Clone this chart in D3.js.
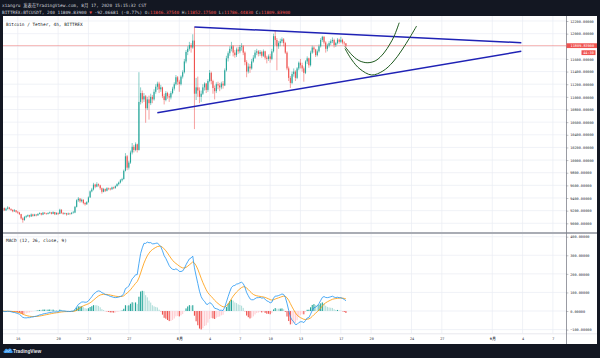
<!DOCTYPE html>
<html><head><meta charset="utf-8">
<script src="https://cdn.jsdelivr.net/npm/d3@7"></script>
<style>html,body{margin:0;padding:0;background:#131722;overflow:hidden}text{white-space:pre}</style>
</head><body>
<svg id="c" width="600" height="358"></svg>
<script>
// ---------------- DATA ----------------
const firstBarTime = "2020-07-14T12:00"; // 4h bars, CST
const barHours = 4;
const firstOpen = 9190;
const closes = [
 9240,9205,9230,
 9250,9228,9212,9190,9205,9182,
 9170,9145,9078,9052,9098,9112,
 9128,9108,9140,9118,9138,9125,
 9148,9160,9138,9168,9155,9148,
 9162,9172,9150,9178,9142,9165,
 9150,9215,9165,9150,9160,9140,
 9155,9150,9165,9170,9260,9365,
 9390,9348,9372,9320,9302,9335,
 9410,9505,9535,9612,9580,9618,
 9600,9555,9498,9540,9515,9555,
 9548,9538,9568,9555,9588,9620,
 9645,9680,9700,9830,10060,9880,
 9960,10120,10210,10160,10250,10160,
 10920,11060,10960,11010,10820,10960,
 10900,11000,10960,11080,11160,11210,
 11120,11150,11010,10950,11060,11010,
 10990,11060,11130,11200,11310,11240,
 11200,11320,11390,11560,11710,11760,
 11820,11780,11890,11050,11150,11100,
 11000,11050,11150,11210,11110,11250,
 11380,11250,11140,11090,11200,11180,
 11150,11210,11180,11420,11610,11690,
 11760,11800,11700,11660,11750,11720,
 11790,11800,11700,11550,11400,11480,
 11450,11560,11620,11700,11720,11680,
 11710,11650,11720,11620,11600,11640,
 11600,11720,11960,11900,11800,11850,
 11880,11910,11850,11700,11450,11300,
 11220,11360,11400,11300,11450,11540,
 11500,11450,11380,11560,11610,11500,
 11700,11780,11750,11660,11720,11800,
 11900,11950,11860,11760,11810,11850,
 11880,11900,11820,11850,11905,11870,
 11902,11860,11846.3754,11809.839
];
const highs = [
 9255,9250,9245,
 9270,9260,9235,9220,9225,9210,
 9195,9180,9150,9095,9115,9130,
 9140,9135,9155,9150,9150,9145,
 9160,9175,9165,9180,9175,9165,
 9175,9185,9180,9190,9180,9175,
 9170,9230,9220,9175,9170,9165,
 9170,9165,9180,9195,9275,9380,
 9415,9400,9390,9380,9335,9350,
 9425,9520,9560,9640,9625,9650,
 9630,9610,9565,9560,9550,9570,
 9565,9560,9580,9580,9600,9635,
 9660,9700,9720,9850,10110,10080,
 9990,10150,10270,10240,10280,10260,
 11390,11150,11100,11060,11030,11000,
 11020,11050,11030,11120,11200,11240,
 11240,11190,11160,11050,11090,11080,
 11050,11090,11160,11230,11345,11330,
 11270,11340,11420,11600,11740,11800,
 11870,11850,11990,12110,11300,11320,
 11150,11100,11200,11230,11220,11280,
 11425,11400,11270,11180,11230,11240,
 11220,11240,11250,11450,11650,11720,
 11800,11870,11820,11740,11780,11790,
 11820,11850,11820,11720,11580,11530,
 11520,11600,11660,11740,11760,11740,
 11740,11730,11750,11730,11650,11670,
 11680,11760,12000,12050,11930,11880,
 11920,11940,11930,11870,11720,11480,
 11330,11400,11450,11420,11470,11560,
 11600,11540,11480,11580,11640,11620,
 11730,11810,11800,11760,11750,11830,
 11930,11965,11960,11880,11840,11880,
 11910,11940,11920,11870,11930,11920,
 11950,11920,11880,11852.175
];
const lows = [
 9180,9195,9195,
 9215,9215,9195,9175,9180,9165,
 9150,9130,9060,9010,9040,9080,
 9100,9090,9100,9105,9110,9110,
 9120,9140,9125,9130,9145,9135,
 9140,9150,9140,9145,9130,9135,
 9130,9145,9150,9135,9140,9120,
 9135,9130,9140,9155,9160,9250,
 9340,9325,9330,9300,9280,9290,
 9325,9400,9490,9520,9555,9570,
 9580,9530,9470,9490,9495,9505,
 9525,9520,9530,9540,9550,9580,
 9600,9630,9660,9690,9820,9840,
 9850,9940,10090,10120,10140,10120,
 10150,10880,10900,10920,10590,10790,
 10640,10870,10900,10940,11050,11110,
 11060,11080,10980,10880,10930,10970,
 10920,10960,11040,11100,11180,11190,
 11080,11180,11290,11370,11530,11660,
 11730,11700,11760,10490,10950,11000,
 10900,10920,11030,11100,11060,11080,
 11230,11200,11050,10960,11060,11120,
 11090,11120,11130,11170,11400,11560,
 11650,11720,11640,11620,11630,11680,
 11690,11730,11660,11500,11310,11370,
 11380,11430,11540,11600,11660,11640,
 11650,11620,11630,11590,11530,11570,
 11540,11580,11700,11820,11420,11760,
 11800,11850,11800,11680,11420,11250,
 11140,11200,11320,11250,11280,11420,
 11450,11400,11240,11360,11520,11460,
 11480,11680,11700,11630,11640,11700,
 11780,11870,11830,11700,11720,11780,
 11820,11850,11780,11790,11830,11840,
 11850,11830,11820,11786.4483
];
const lastPrice = 11809.839;
const timeTickDates = ["2020-07-16","2020-07-20","2020-07-23","2020-07-27","2020-08-01","2020-08-04","2020-08-07","2020-08-10","2020-08-13","2020-08-17","2020-08-20","2020-08-24","2020-08-27","2020-09-01","2020-09-04","2020-09-07"];
const timeTickLabels = ["16","20","23","27","8月","4","7","10","13","17","20","24","27","9月","4","7"];
const priceTicks = [9000,9200,9400,9600,9800,10000,10200,10400,10600,10800,11000,11200,11400,11600,11800,12000,12200];
const macdTicks = [-100,0,100,200,300,400];
// user drawings (time, price)
const upperTrend = [["2020-08-02T12:00",12105],["2020-09-03T21:00",11857]];
const lowerTrend = [["2020-07-29T19:45",10749],["2020-09-03T21:00",11721]];
const curveA = [["2020-08-17T09:45",11797],["2020-08-18T04:45",11646],["2020-08-18T21:20",11567],["2020-08-19T16:20",11540],["2020-08-20T11:25",11575],["2020-08-21T06:25",11694],["2020-08-21T20:40",11836],["2020-08-22T06:50",11963],["2020-08-22T18:45",12173]];
const curveB = [["2020-08-17T09:45",11765],["2020-08-18T02:20",11583],["2020-08-18T21:20",11441],["2020-08-20T01:10",11346],["2020-08-21T04:00",11409],["2020-08-22T03:50",11551],["2020-08-23T01:10",11741],["2020-08-23T20:10",11942],["2020-08-24T12:05",12121]];

// ---------------- CHART ----------------
const W=600,H=358;
const svg=d3.select("#c");
const mono="DejaVu Sans Mono, monospace";
const parseT=d3.utcParse("%Y-%m-%dT%H:%M"), parseD=d3.utcParse("%Y-%m-%d");
const t0=parseT(firstBarTime);
const bars=closes.map((c,i)=>({t:new Date(+t0+i*barHours*3600e3),o:i?closes[i-1]:firstOpen,h:highs[i],l:lows[i],c}));

// MACD(12,26,close,9)
function ema(v,n){const k=2/(n+1),out=[];v.forEach((x,i)=>out.push(i?x*k+out[i-1]*(1-k):x));return out;}
const e12=ema(closes,12),e26=ema(closes,26);
const macd=e12.map((v,i)=>v-e26[i]);
const sig=ema(macd,9);
const hist=macd.map((v,i)=>v-sig[i]);

const x=d3.scaleUtc().domain([parseD("2020-08-01"),parseD("2020-09-01")]).range([179.3,492.3]);
const yP=d3.scaleLinear().domain([9000,12200]).range([223.3,21]);
const yM=d3.scaleLinear().domain([-100,400]).range([329.6,236.7]);

const L=3,R=566,PT=16,PB=232,MT=234,MB=333.5;
svg.append("rect").attr("width",W).attr("height",H).attr("fill","#131722");
svg.append("rect").attr("x",3).attr("y",16).attr("width",594).attr("height",328).attr("fill","#ffffff");

const defs=svg.append("defs");
defs.append("clipPath").attr("id","cpP").append("rect").attr("x",L).attr("y",PT).attr("width",R-L).attr("height",PB-PT);
defs.append("clipPath").attr("id","cpM").append("rect").attr("x",L).attr("y",MT).attr("width",R-L).attr("height",MB-MT);

const grid="#e9edf3";
const tickDates=timeTickDates.map(parseD);
// grids
const gP=svg.append("g").attr("clip-path","url(#cpP)");
gP.selectAll(".vg").data(tickDates).join("line").attr("x1",d=>x(d)).attr("x2",d=>x(d)).attr("y1",PT).attr("y2",PB).attr("stroke",grid).attr("stroke-width",0.7);
gP.selectAll(".hg").data(priceTicks).join("line").attr("x1",L).attr("x2",R).attr("y1",d=>yP(d)).attr("y2",d=>yP(d)).attr("stroke",grid).attr("stroke-width",0.7);
const gM=svg.append("g").attr("clip-path","url(#cpM)");
gM.selectAll(".vg").data(tickDates).join("line").attr("x1",d=>x(d)).attr("x2",d=>x(d)).attr("y1",MT).attr("y2",MB).attr("stroke",grid).attr("stroke-width",0.7);
gM.selectAll(".hg").data(macdTicks).join("line").attr("x1",L).attr("x2",R).attr("y1",d=>yM(d)).attr("y2",d=>yM(d)).attr("stroke",grid).attr("stroke-width",0.7);

// last price line
gP.append("line").attr("x1",L).attr("x2",R).attr("y1",yP(lastPrice)).attr("y2",yP(lastPrice)).attr("stroke","#ef5350").attr("stroke-opacity",0.55).attr("stroke-width",0.8);

// candles
const up="#26a69a",dn="#ef5350";
const cg=gP.append("g");
cg.selectAll(".w").data(bars).join("line")
 .attr("x1",d=>x(d.t)).attr("x2",d=>x(d.t))
 .attr("y1",d=>yP(Math.max(d.h,d.o,d.c))).attr("y2",d=>yP(Math.min(d.l,d.o,d.c)))
 .attr("stroke",d=>d.c>=d.o?up:dn).attr("stroke-width",0.55);
cg.selectAll(".b").data(bars).join("rect")
 .attr("x",d=>x(d.t)-0.55).attr("width",1.1)
 .attr("y",d=>yP(Math.max(d.o,d.c))).attr("height",d=>Math.max(0.5,Math.abs(yP(d.o)-yP(d.c))))
 .attr("fill",d=>d.c>=d.o?up:dn);

// drawings
const pt=d=>[x(parseT(d[0])),yP(d[1])];
const ln=d3.line().x(d=>pt(d)[0]).y(d=>pt(d)[1]);
[upperTrend,lowerTrend].forEach(t=>gP.append("path").attr("d",ln(t)).attr("fill","none").attr("stroke","#1f22b5").attr("stroke-width",1.5));
const cv=d3.line().x(d=>pt(d)[0]).y(d=>pt(d)[1]).curve(d3.curveCatmullRom);
[curveA,curveB].forEach(t=>gP.append("path").attr("d",cv(t)).attr("fill","none").attr("stroke","#1e5a1e").attr("stroke-width",1));

// MACD histogram + lines
const hc=hist.map((h,i)=>{const p=i?hist[i-1]:0;return h>=0?(h>=p?"#26a69a":"#b2dfdb"):(h<p?"#ef5350":"#ffcdd2");});
gM.selectAll(".h").data(bars).join("rect")
 .attr("x",d=>x(d.t)-0.55).attr("width",1.1)
 .attr("y",(d,i)=>Math.min(yM(0),yM(hist[i]))).attr("height",(d,i)=>Math.abs(yM(hist[i])-yM(0)))
 .attr("fill",(d,i)=>hc[i]);
const ml=d3.line().x((d,i)=>x(bars[i].t)).y(d=>yM(d));
gM.append("path").attr("d",ml(sig)).attr("fill","none").attr("stroke","#ff9800").attr("stroke-width",0.8);
gM.append("path").attr("d",ml(macd)).attr("fill","none").attr("stroke","#2196f3").attr("stroke-width",0.8);

// separators / axis lines
svg.append("rect").attr("x",3).attr("y",232).attr("width",594).attr("height",2).attr("fill","#a9acb4");
svg.append("line").attr("x1",3).attr("x2",597).attr("y1",333.8).attr("y2",333.8).attr("stroke","#d6d9e0").attr("stroke-width",0.6);
svg.append("line").attr("x1",R+0.5).attr("x2",R+0.5).attr("y1",16).attr("y2",344).attr("stroke","#7f828b").attr("stroke-width",0.8);

// axes
const axFont=3.55,axCol="#2a2e39";
function styleAx(g){g.select(".domain").remove();g.selectAll("text").attr("font-family",mono).attr("font-size",axFont).attr("fill",axCol);g.selectAll("line").attr("stroke","#7f828b").attr("stroke-width",0.5);}
svg.append("g").attr("transform",`translate(${R},0)`).call(d3.axisRight(yP).tickValues(priceTicks.filter(v=>v>=9000)).tickFormat(d3.format(".5f")).tickSize(2.4).tickPadding(1.8)).call(styleAx);
svg.append("g").attr("transform",`translate(${R},0)`).call(d3.axisRight(yM).tickValues(macdTicks).tickFormat(d3.format(".5f")).tickSize(2.4).tickPadding(1.8)).call(styleAx);
const tx=svg.append("g").attr("transform","translate(0,337.2)").call(d3.axisBottom(x).tickValues(tickDates).tickFormat((d,i)=>timeTickLabels[i]).tickSize(0).tickPadding(0)).call(styleAx);
tx.selectAll("text").attr("font-weight",(d,i)=>timeTickLabels[i].includes("月")?"bold":"normal");

// last price label
const ly=yP(lastPrice);
svg.append("rect").attr("x",R+0.5).attr("y",ly-2.4).attr("width",30.5).attr("height",4.8).attr("fill","#ef5350");
svg.append("text").attr("x",570.6).attr("y",ly+1.2).attr("font-family",mono).attr("font-size",axFont).attr("fill","#fff").text(d3.format(".5f")(lastPrice));
svg.append("rect").attr("x",581.5).attr("y",ly+4.6).attr("width",14).attr("height",4.8).attr("fill","#ef5350");
svg.append("text").attr("x",583.2).attr("y",ly+8.2).attr("font-family",mono).attr("font-size",axFont).attr("fill","#fff").text("44:30");

// titles
const fs=4.4;
svg.append("text").attr("x",6).attr("y",25.8).attr("font-family",mono).attr("font-size",fs).attr("fill","#131722").text("Bitcoin / Tether, 4h, BITTREX");
svg.append("text").attr("x",6).attr("y",242.2).attr("font-family",mono).attr("font-size",fs).attr("fill","#131722").text("MACD (12, 26, close, 9)");

// header
svg.append("text").attr("x",2).attr("y",6.6).attr("font-family",mono+", Noto Sans CJK SC").attr("font-size",fs).attr("fill","#d1d4dc").text("xiangru 发表在TradingView.com, 8月 17, 2020 15:15:32 CST");
const h2=svg.append("text").attr("x",2).attr("y",13.8).attr("font-family",mono).attr("font-size",fs).attr("fill","#d1d4dc");
const red="#ef5350";
[["BITTREX:BTCUSDT, 240 11809.83900 ",null],["▼",red],[" -92.06681 (-0.77%) ",null],["O:",null],["11846.37540",red],[" H:",null],["11852.17500",red],[" L:",null],["11786.44830",red],[" C:",null],["11809.83900",red]]
 .forEach(([t,c])=>{const s=h2.append("tspan").text(t);if(c)s.attr("fill",c);});

// footer logo
const lg=svg.append("g").attr("transform","translate(3,347.5)");
lg.append("path").attr("d","M1.5,5.5 C0,5.5 0,3.2 1.6,3.1 C1.6,1.2 4.2,0.6 5,2.2 C5.8,0.2 9,0.6 8.8,3.2 C10.2,3.3 10.2,5.5 8.6,5.5 Z").attr("fill","#3d9bef");
lg.append("path").attr("d","M2.2,4.6 L4,3.2 L5.4,4 L7.6,2.4").attr("fill","none").attr("stroke","#fff").attr("stroke-width",0.5);
svg.append("text").attr("x",13).attr("y",353.3).attr("font-family","Liberation Sans, Arial, sans-serif").attr("font-weight","bold").attr("font-size",4.8).attr("fill","#e6e8ee").text("TradingView");
</script>
</body></html>
